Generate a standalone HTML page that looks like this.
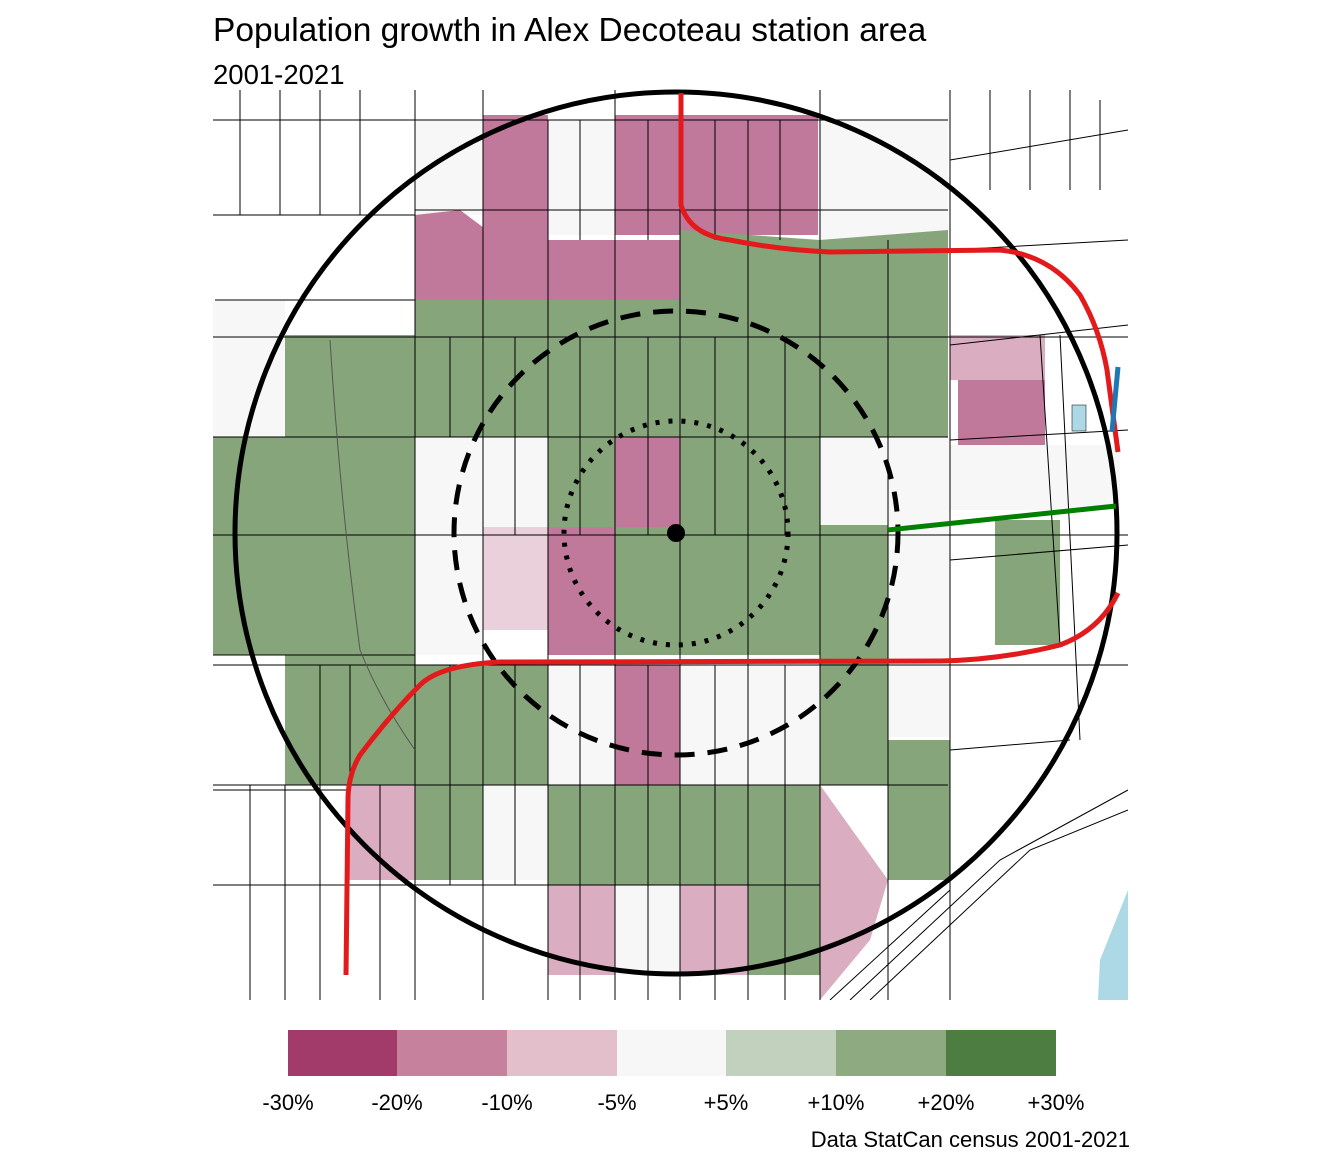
<!DOCTYPE html>
<html><head><meta charset="utf-8"><style>
body{margin:0;background:#fff;}
svg{display:block;font-family:"Liberation Sans",sans-serif;}
</style></head><body>
<svg width="1344" height="1152" viewBox="0 0 1344 1152">
<text x="213" y="41" font-size="33.5">Population growth in Alex Decoteau station area</text>
<text x="213" y="84" font-size="27.5">2001-2021</text>
<defs><clipPath id="c"><rect x="213" y="90" width="915" height="910"/></clipPath></defs>
<g clip-path="url(#c)">
<g stroke="none">
<rect x="415" y="120" width="68" height="95" fill="#f7f7f7"/>
<rect x="483" y="115" width="65" height="125" fill="#c0789b"/>
<rect x="548" y="120" width="67" height="115" fill="#f7f7f7"/>
<rect x="615" y="115" width="203" height="120" fill="#c0789b"/>
<rect x="818" y="120" width="130" height="120" fill="#f7f7f7"/>
<polygon points="415,215 460,210 500,240 680,240 680,300 415,300" fill="#c0789b"/>
<polygon points="680,230 820,240 948,230 948,335 680,335" fill="#86a57a"/>
<rect x="415" y="300" width="265" height="37" fill="#86a57a"/>
<rect x="213" y="300" width="72" height="137" fill="#f7f7f7"/>
<rect x="285" y="335" width="130" height="450" fill="#86a57a"/>
<rect x="415" y="335" width="533" height="102" fill="#86a57a"/>
<rect x="213" y="437" width="72" height="218" fill="#86a57a"/>
<rect x="415" y="437" width="68" height="218" fill="#f7f7f7"/>
<rect x="483" y="437" width="65" height="90" fill="#f7f7f7"/>
<rect x="483" y="527" width="65" height="103" fill="#ead0da"/>
<rect x="548" y="437" width="67" height="90" fill="#86a57a"/>
<rect x="548" y="527" width="67" height="128" fill="#c0789b"/>
<rect x="615" y="437" width="65" height="90" fill="#c0789b"/>
<rect x="615" y="527" width="205" height="128" fill="#86a57a"/>
<rect x="680" y="437" width="140" height="90" fill="#86a57a"/>
<rect x="820" y="437" width="68" height="88" fill="#f7f7f7"/>
<rect x="820" y="525" width="68" height="260" fill="#86a57a"/>
<rect x="888" y="437" width="62" height="300" fill="#f7f7f7"/>
<rect x="415" y="665" width="133" height="120" fill="#86a57a"/>
<rect x="548" y="665" width="67" height="120" fill="#f7f7f7"/>
<rect x="615" y="665" width="65" height="120" fill="#c0789b"/>
<rect x="680" y="665" width="140" height="120" fill="#f7f7f7"/>
<rect x="888" y="740" width="62" height="140" fill="#86a57a"/>
<rect x="348" y="785" width="67" height="95" fill="#dbadc0"/>
<rect x="415" y="785" width="68" height="95" fill="#86a57a"/>
<rect x="483" y="785" width="65" height="95" fill="#f7f7f7"/>
<rect x="548" y="785" width="272" height="100" fill="#86a57a"/>
<polygon points="820,785 888,880 870,940 820,1000" fill="#dbadc0"/>
<rect x="548" y="885" width="67" height="90" fill="#dbadc0"/>
<rect x="615" y="885" width="65" height="90" fill="#f7f7f7"/>
<rect x="680" y="885" width="68" height="90" fill="#dbadc0"/>
<rect x="748" y="885" width="72" height="90" fill="#86a57a"/>
<rect x="950" y="335" width="95" height="45" fill="#dbadc0"/>
<rect x="958" y="380" width="87" height="70" fill="#c0789b"/>
<rect x="950" y="445" width="170" height="65" fill="#f7f7f7"/>
<rect x="995" y="520" width="65" height="125" fill="#86a57a"/>
<rect x="1072" y="405" width="14" height="26" fill="#add8e6" stroke="#000" stroke-width="0.5"/>
<polygon points="1128,890 1100,960 1098,1000 1128,1000" fill="#add8e6"/>
</g>
<g stroke="#000" stroke-width="1" fill="none">
<path d="M213 120H948M213 215H415M415 210H948M215 300H415M213 337H1128M213 437H948M213 535H1128M213 655H415M213 665H1128M213 785H948M213 885H820M213 790H348M950 160L1128 130M950 250L1128 240M950 345L1128 325M950 440L1128 430M950 560L1128 545M950 750L1070 740"/>
<path d="M240 90V215M280 90V215M320 90V215M360 90V215M415 90V1000M483 90V1000M548 120V1000M580 120V240M615 90V1000M648 120V240M680 90V1000M715 120V240M748 120V1000M780 120V240M820 90V1000M888 240V1000M950 90V1000M990 90V190M1030 90V190M1070 90V190M1100 100V190"/>
<path d="M450 337V437M515 337V437M580 337V437M648 337V437M715 337V437M785 337V437M515 437V535M580 437V535M648 437V535M715 437V535M785 437V535M450 665V785M515 665V785M580 665V785M648 665V785M715 665V785M785 665V785M450 785V885M515 785V885M580 785V885M648 785V885M715 785V885M785 785V885M580 885V1000M648 885V1000M715 885V1000M785 885V1000M320 665V785M350 665V785M250 785V1000M285 785V1000M320 785V1000M380 785V1000"/>
<path d="M850 1000L1000 860L1128 790M870 1000L1030 850L1128 810M830 1000L950 890M1060 335L1080 740M1040 335L1060 645"/>
</g>
<path d="M330 340Q340 500 360 650Q380 700 415 750" stroke="#555" stroke-width="1" fill="none"/>
</g>
<circle cx="676" cy="533" r="441" fill="none" stroke="#000" stroke-width="5"/>
<circle cx="676" cy="533" r="222" fill="none" stroke="#000" stroke-width="5" stroke-dasharray="20 13"/>
<circle cx="676" cy="533" r="112" fill="none" stroke="#000" stroke-width="5" stroke-dasharray="4 9"/>
<circle cx="676" cy="533" r="9" fill="#000"/>
<g fill="none" stroke-width="5" stroke-linecap="butt">
<path d="M681 93V205Q690 235 730 240Q780 250 830 252L1000 250Q1050 255 1080 295Q1100 330 1107 370L1118 452" stroke="#e31a1c"/>
<path d="M1118 593Q1100 630 1060 645Q1000 660 940 661L500 662Q440 665 420 685Q390 715 360 755Q348 775 348 800L346 975" stroke="#e31a1c"/>
<path d="M1118 367L1112 432" stroke="#1f78b4"/>
<path d="M888 530L1116 506" stroke="#008000"/>
</g>
<rect x="288" y="1030" width="110" height="46" fill="#a23a6a"/>
<rect x="397" y="1030" width="110" height="46" fill="#c6819c"/>
<rect x="507" y="1030" width="110" height="46" fill="#e3bfcc"/>
<rect x="617" y="1030" width="110" height="46" fill="#f7f7f7"/>
<rect x="726" y="1030" width="110" height="46" fill="#c2d1bd"/>
<rect x="836" y="1030" width="110" height="46" fill="#8daa81"/>
<rect x="946" y="1030" width="110" height="46" fill="#4d7d40"/>
<g font-size="22" text-anchor="middle">
<text x="288" y="1110">-30%</text><text x="397" y="1110">-20%</text><text x="507" y="1110">-10%</text><text x="617" y="1110">-5%</text><text x="726" y="1110">+5%</text><text x="836" y="1110">+10%</text><text x="946" y="1110">+20%</text><text x="1056" y="1110">+30%</text>
</g>
<text x="1130" y="1147" font-size="22" text-anchor="end">Data StatCan census 2001-2021</text>
</svg>
</body></html>
